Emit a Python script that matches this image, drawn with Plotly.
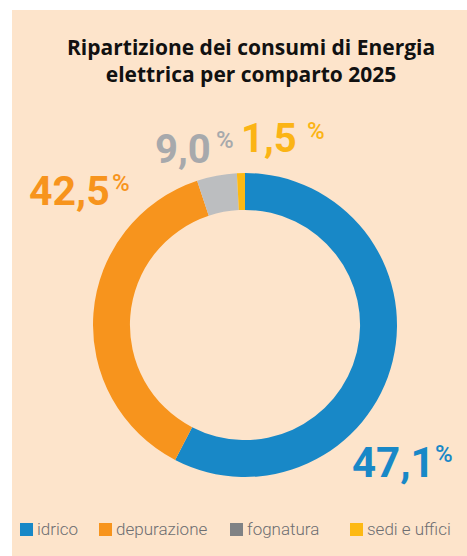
"""Donut chart: ripartizione dei consumi di energia elettrica per comparto 2025."""

import plotly.graph_objects as go

W, H = 467, 556

# categories, printed percentages and the slice shares as drawn in the reference
categories = ["idrico", "depurazione", "fognatura", "sedi e uffici"]
label_pct = ["47,1", "42,5", "9,0", "1,5"]
share_drawn = [57.6, 37.3, 4.25, 0.85]

SLICE_COLORS = ["#1888C7", "#F7941D", "#BCBEC0", "#FDB913"]
LABEL_COLORS = ["#1888C7", "#F7941D", "#A7A9AC", "#FBB415"]
LEGEND_COLORS = ["#1888C7", "#F7941D", "#808285", "#FDB913"]
PANEL_BG = "#FDE4CB"
TEXT_LEGEND = "#6D6E71"
NUM_FONT = "Roboto, sans-serif"


def px(x):
    return x / W


def py(y):
    return 1 - y / H


fig = go.Figure()

fig.add_trace(
    go.Pie(
        labels=categories,
        values=share_drawn,
        hole=0.757,
        sort=False,
        direction="clockwise",
        rotation=0,
        textinfo="none",
        hoverinfo="label",
        marker={"colors": SLICE_COLORS, "line": {"width": 0}},
        domain={"x": [px(93), px(397)], "y": [py(477), py(173)]},
        showlegend=False,
    )
)

# peach panel behind everything
fig.add_shape(
    type="rect",
    xref="paper",
    yref="paper",
    x0=px(12),
    x1=1,
    y0=0,
    y1=py(10),
    fillcolor=PANEL_BG,
    line={"width": 0},
    layer="below",
)

# big value labels: (number centre x, number centre y, size, % left edge, % centre y)
label_pos = [
    (393, 462, 42, 433, 454),
    (69, 191, 41, 110, 183),
    (183, 149, 40, 214, 140),
    (269, 138, 40, 305, 131),
]
for txt, col, (xc, yc, size, xp, yp) in zip(label_pct, LABEL_COLORS, label_pos):
    fig.add_annotation(
        text=f"<b>{txt}</b>",
        x=px(xc),
        y=py(yc),
        xref="paper",
        yref="paper",
        xanchor="center",
        yanchor="middle",
        showarrow=False,
        font={"family": NUM_FONT, "size": size, "color": col},
    )
    fig.add_annotation(
        text="%",
        x=px(xp),
        y=py(yp),
        xref="paper",
        yref="paper",
        xanchor="left",
        yanchor="middle",
        showarrow=False,
        font={"family": NUM_FONT, "size": 24, "color": col, "weight": 500},
    )

# title
fig.add_annotation(
    text="<b>Ripartizione dei consumi di Energia<br>elettrica per comparto 2025</b>",
    x=px(251),
    y=py(60),
    xref="paper",
    yref="paper",
    xanchor="center",
    yanchor="middle",
    showarrow=False,
    align="center",
    font={"family": "Open Sans, sans-serif", "size": 21, "color": "#111111"},
)

# hand-placed legend, matching the reference spacing
legend_x = [20, 99, 230, 350]
for name, col, x in zip(categories, LEGEND_COLORS, legend_x):
    fig.add_shape(
        type="rect",
        xref="paper",
        yref="paper",
        x0=px(x),
        x1=px(x + 13),
        y0=py(536),
        y1=py(523),
        fillcolor=col,
        line={"width": 0},
    )
    fig.add_annotation(
        text=name,
        x=px(x + 15),
        y=py(529),
        xref="paper",
        yref="paper",
        xanchor="left",
        yanchor="middle",
        showarrow=False,
        font={"family": NUM_FONT, "size": 17, "color": TEXT_LEGEND, "weight": 300},
    )

fig.update_layout(
    width=W,
    height=H,
    margin={"l": 0, "r": 0, "t": 0, "b": 0},
    paper_bgcolor="white",
    plot_bgcolor="white",
)

# drop the browser's default body margin so the figure sits at the page origin
fig.write_html(
    "out.html",
    config={"displayModeBar": False},
    post_script="document.body.style.margin = '0';",
)
